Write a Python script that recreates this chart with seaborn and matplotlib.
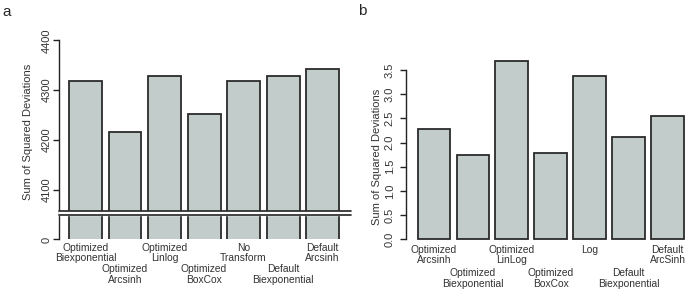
import pandas as pd
import seaborn as sns
import matplotlib.pyplot as plt

# Panel a: sums of squared deviations (broken axis, lower part labelled 0)
labels_a = ['Optimized\nBiexponential', 'Optimized\nArcsinh', 'Optimized\nLinlog',
            'Optimized\nBoxCox', 'No\nTransform', 'Default\nBiexponential', 'Default\nArcsinh']
values_a = [4319, 4215, 4329, 4252, 4319, 4329, 4343]
ticks_a = [4000, 4100, 4200, 4300, 4400]
ticklabels_a = ['0', '4100', '4200', '4300', '4400']

# Panel b
labels_b = ['Optimized\nArcsinh', 'Optimized\nBiexponential', 'Optimized\nLinLog',
            'Optimized\nBoxCox', 'Log', 'Default\nBiexponential', 'Default\nArcSinh']
values_b = [2.27, 1.74, 3.68, 1.79, 3.37, 2.11, 2.55]
ticks_b = [0.0, 0.5, 1.0, 1.5, 2.0, 2.5, 3.0, 3.5]

sns.set_theme(style="white")
plt.rcParams['font.family'] = ['Liberation Sans', 'DejaVu Sans']

bar_color = '#c2cccb'
edge_color = '#2b2b2b'
text_color = '#333333'

fig = plt.figure(figsize=(6.85, 2.91), dpi=100)
ax_a = fig.add_axes([0.0861, 0.177, 0.4263, 0.6845])
ax_b = fig.add_axes([0.5923, 0.1777, 0.4077, 0.6316])


def draw_panel(ax, labels, values, width, pad_top, pad_low, clip):
    df = pd.DataFrame({'label': labels, 'value': values})
    sns.barplot(data=df, x='label', y='value', ax=ax, color=bar_color,
                saturation=1, width=width, edgecolor=edge_color, linewidth=1.3)
    for p in ax.patches:
        p.set_clip_on(clip)
    ax.set_xlabel('')
    ax.set_ylabel('Sum of Squared Deviations', fontsize=8, color=text_color)
    for side in ['top', 'right', 'bottom']:
        ax.spines[side].set_visible(False)
    ax.spines['left'].set_color('#222222')
    ax.spines['left'].set_linewidth(1.0)
    # staggered labels: odd positions on top row, even positions below
    pos = list(range(len(labels)))
    ax.set_xticks(pos[0::2], labels[0::2])
    ax.set_xticks(pos[1::2], labels[1::2], minor=True)
    ax.tick_params(axis='x', which='both', length=0, labelsize=7.4, labelcolor=text_color)
    ax.tick_params(axis='x', which='major', pad=pad_top)
    ax.tick_params(axis='x', which='minor', pad=pad_low)
    for t in ax.get_xticklabels(which='both'):
        t.set_linespacing(1.08)
        t.set_ha('center')


# ---- panel a
draw_panel(ax_a, labels_a, values_a, 0.835, 2.3, 17.8, True)
ax_a.set_ylim(4000, 4400)
ax_a.set_xlim(-0.671, 6.72)
ax_a.set_yticks(ticks_a, ticklabels_a)
ax_a.tick_params(axis='y', length=4, width=1, color='#222222', pad=1.5,
                 labelsize=8, labelcolor=text_color, left=True)
for t in ax_a.get_yticklabels():
    t.set_rotation(90)
    t.set_va('center')
ax_a.yaxis.set_label_coords(-0.09, 0.54)

# axis break band
ax_a.axhspan(4050, 4058, xmin=0, xmax=1, color='white', zorder=5, clip_on=False)
ax_a.axhline(4050, color='#222222', lw=1.2, zorder=6, clip_on=False)
ax_a.axhline(4058, color='#222222', lw=1.2, zorder=6, clip_on=False)

# ---- panel b
draw_panel(ax_b, labels_b, values_b, 0.84, 4.0, 21.0, False)
ax_b.set_ylim(0, 3.8)
ax_b.set_xlim(-0.727, 6.45)
ax_b.spines['left'].set_bounds(0, 3.5)
ax_b.set_yticks(ticks_b, [f'{v:.1f}' for v in ticks_b])
ax_b.tick_params(axis='y', length=4, width=1, color='#222222', pad=4,
                 labelsize=8, labelcolor=text_color, left=True)
for t in ax_b.get_yticklabels():
    t.set_rotation(90)
    t.set_va('center')
ax_b.yaxis.set_label_coords(-0.086, 0.45)

fig.text(0.004, 0.958, 'a', fontsize=11, va='center', ha='left')
fig.text(0.522, 0.962, 'b', fontsize=11, va='center', ha='left')

fig.savefig('out.png', dpi=100)
